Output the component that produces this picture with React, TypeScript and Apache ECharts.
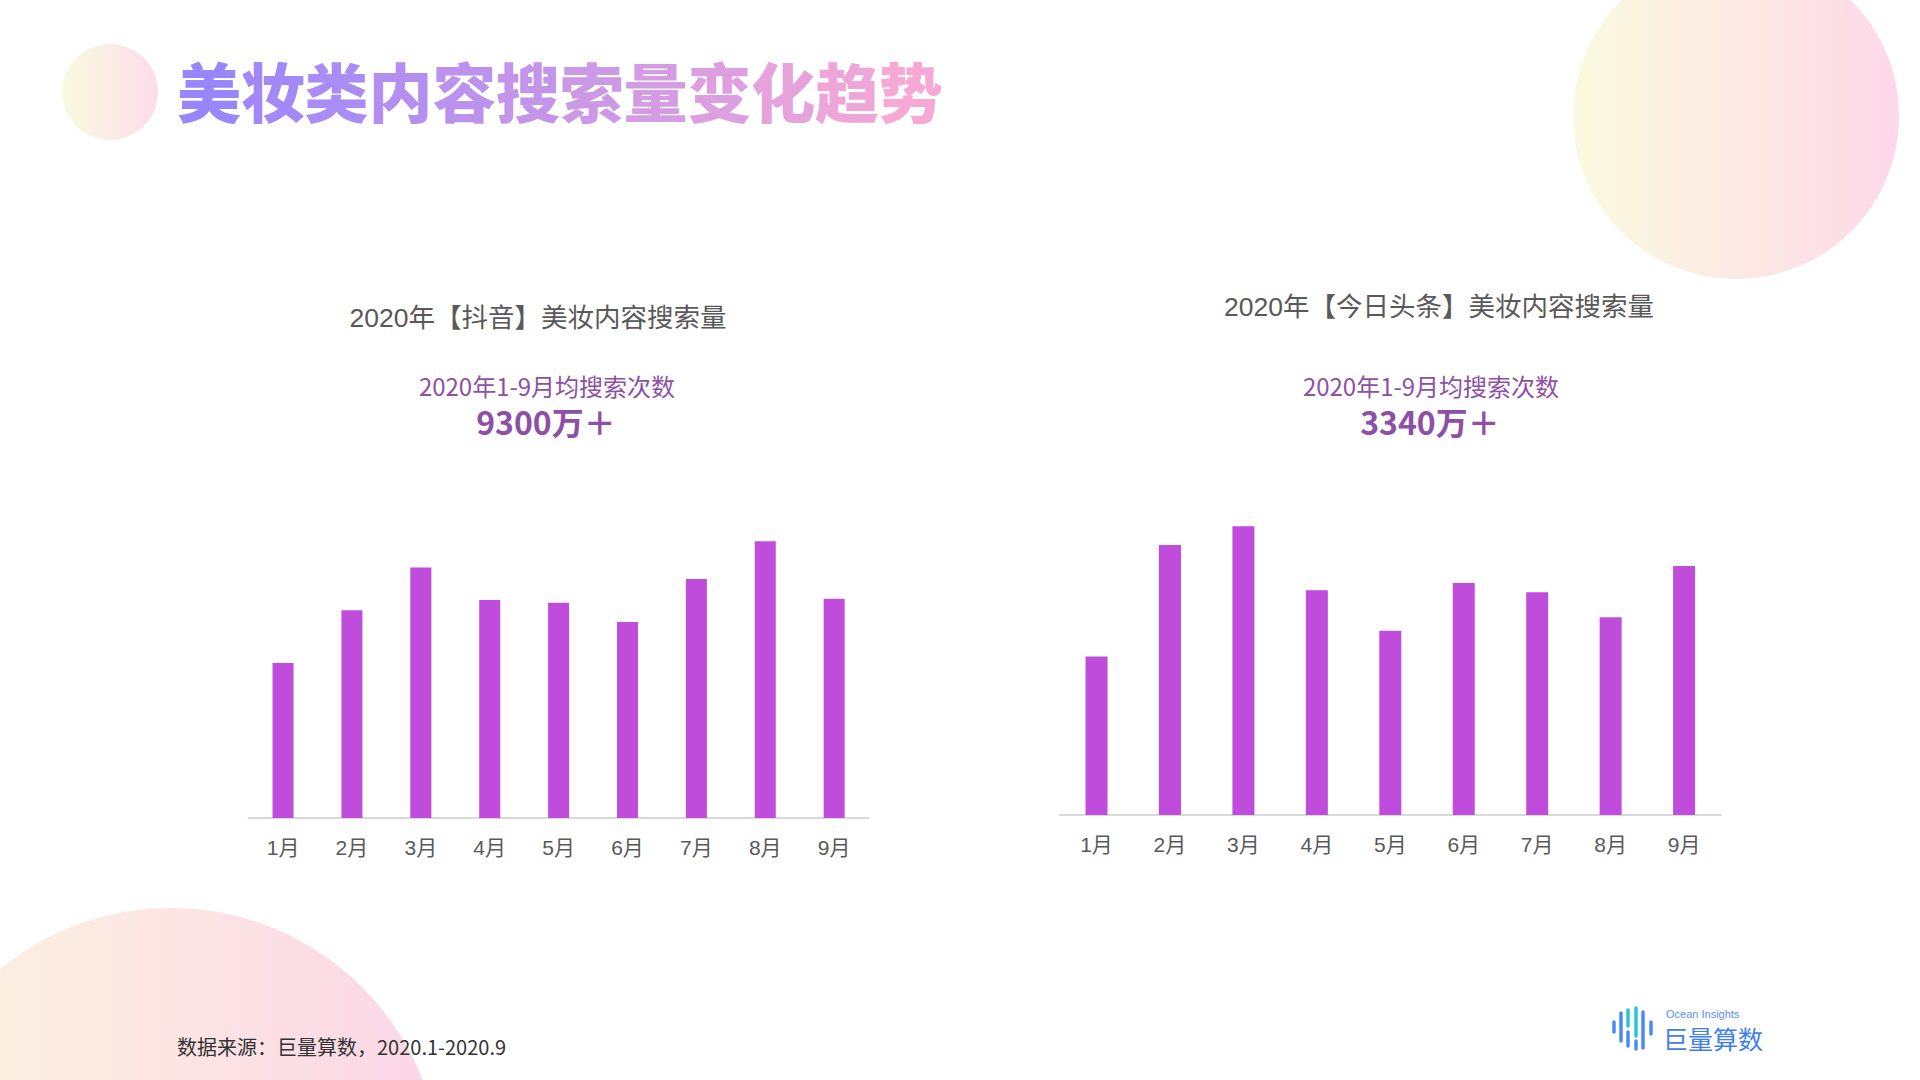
import React, { useEffect, useRef } from "react";
import * as echarts from "echarts";

const months = ["1月", "2月", "3月", "4月", "5月", "6月", "7月", "8月", "9月"];
// estimated monthly search counts (万)
const douyinValues = [6570, 8810, 10620, 9240, 9130, 8310, 10130, 11730, 9300];
const toutiaoValues = [2350, 4000, 4280, 3330, 2730, 3440, 3300, 2930, 3690];
const douyinMax = 12720;
const toutiaoMax = 4446;

const mainTitle = "美妆类内容搜索量变化趋势";
const leftTitle = "2020年【抖音】美妆内容搜索量";
const rightTitle = "2020年【今日头条】美妆内容搜索量";
const avgLabel = "2020年1-9月均搜索次数";
const leftAvg = "9300万＋";
const rightAvg = "3340万＋";
const footer = "数据来源：巨量算数，2020.1-2020.9";

const BAR = "#BF4CDB";
const PURPLE = "#8E4FA6";
const GREY = "#595959";
const CJK = '"Noto Sans CJK SC", "Liberation Sans", sans-serif';
const LAT = '"Liberation Sans", "Noto Sans CJK SC", sans-serif';

function grad(c1: string, c2: string) {
  return new echarts.graphic.LinearGradient(0, 0, 1, 0, [
    { offset: 0, color: c1 },
    { offset: 1, color: c2 },
  ]);
}

function mix(a: number[], b: number[], t: number) {
  const c = a.map((v, i) => Math.round(v + (b[i] - v) * t));
  return `rgb(${c[0]},${c[1]},${c[2]})`;
}

export default function App() {
  const ref = useRef<HTMLDivElement>(null);
  useEffect(() => {
    if (!ref.current) return;
    const chart = echarts.init(ref.current, undefined, { renderer: "svg" });
    const logoBars = [
      { x: 1614, y1: 1022, y2: 1032, c: "#4A8BF5" },
      { x: 1621, y1: 1013, y2: 1041, c: "#4A8BF5" },
      { x: 1628, y1: 1010, y2: 1026, c: "#2BC4D4" },
      { x: 1628, y1: 1032, y2: 1046, c: "#4A8BF5" },
      { x: 1636, y1: 1008, y2: 1036, c: "#2BC4D4" },
      { x: 1636, y1: 1041, y2: 1049, c: "#4A8BF5" },
      { x: 1643, y1: 1012, y2: 1048, c: "#4A8BF5" },
      { x: 1651, y1: 1022, y2: 1034, c: "#4A8BF5" },
    ];
    const titleChars = Array.from(mainTitle);
    const cStart = [152, 134, 252];
    const cEnd = [247, 168, 212];
    const option: any = {
      animation: false,
      backgroundColor: "#ffffff",
      grid: [
        { left: 248.6, width: 620, top: 518, height: 300 },
        { left: 1059.8, width: 661, top: 515, height: 300 },
      ],
      xAxis: [0, 1].map((i) => ({
        type: "category",
        gridIndex: i,
        data: months,
        axisLine: { lineStyle: { color: "#D9D9D9", width: 2 } },
        axisTick: { show: false },
        axisLabel: { color: GREY, fontSize: 21, margin: 19, fontFamily: LAT },
      })),
      yAxis: [
        { type: "value", gridIndex: 0, min: 0, max: douyinMax, show: false, splitLine: { show: false } },
        { type: "value", gridIndex: 1, min: 0, max: toutiaoMax, show: false, splitLine: { show: false } },
      ],
      series: [
        { type: "bar", xAxisIndex: 0, yAxisIndex: 0, data: douyinValues, barWidth: 21, itemStyle: { color: BAR } },
        { type: "bar", xAxisIndex: 1, yAxisIndex: 1, data: toutiaoValues, barWidth: 22, itemStyle: { color: BAR } },
      ],
      graphic: [
        { type: "circle", z: -10, shape: { cx: 110, cy: 92, r: 48 }, style: { fill: grad("#F9FBE0", "#FDDCEA") } },
        { type: "circle", z: -10, shape: { cx: 1736, cy: 116, r: 163 }, style: { fill: grad("#FAFBE0", "#FDD8E8") } },
        { type: "circle", z: -10, shape: { cx: 171, cy: 1178, r: 270 }, style: { fill: grad("#FBF4DF", "#FCD6E7") } },
        ...titleChars.map((ch, i) => ({
          type: "text",
          x: 177 + i * 63.8,
          y: 89,
          style: {
            text: ch,
            fontSize: 64,
            fontWeight: 900,
            fontFamily: CJK,
            fill: mix(cStart, cEnd, i / (titleChars.length - 1)),
            textVerticalAlign: "middle",
          },
        })),
        { type: "text", x: 538, y: 318, style: { text: leftTitle, fontSize: 26.5, fontFamily: LAT, fill: GREY, textAlign: "center", textVerticalAlign: "middle" } },
        { type: "text", x: 1439, y: 307, style: { text: rightTitle, fontSize: 26.5, fontFamily: LAT, fill: GREY, textAlign: "center", textVerticalAlign: "middle" } },
        { type: "text", x: 547, y: 385, style: { text: avgLabel, fontSize: 24, fontFamily: CJK, fill: PURPLE, textAlign: "center", textVerticalAlign: "middle" } },
        { type: "text", x: 1431, y: 385, style: { text: avgLabel, fontSize: 24, fontFamily: CJK, fill: PURPLE, textAlign: "center", textVerticalAlign: "middle" } },
        { type: "text", x: 546, y: 421, style: { text: leftAvg, fontSize: 32, fontWeight: "bold", fontFamily: CJK, fill: PURPLE, textAlign: "center", textVerticalAlign: "middle" } },
        { type: "text", x: 1430, y: 421, style: { text: rightAvg, fontSize: 32, fontWeight: "bold", fontFamily: CJK, fill: PURPLE, textAlign: "center", textVerticalAlign: "middle" } },
        { type: "text", x: 177, y: 1046, style: { text: footer, fontSize: 20, fontFamily: CJK, fill: "#333333", textVerticalAlign: "middle" } },
        ...logoBars.map((b) => ({
          type: "line",
          shape: { x1: b.x, y1: b.y1, x2: b.x, y2: b.y2 },
          style: { stroke: b.c, lineWidth: 3.5, lineCap: "round" },
        })),
        { type: "text", x: 1666, y: 1014, style: { text: "Ocean Insights", fontSize: 11, fontFamily: LAT, fill: "#5B8FF0", textVerticalAlign: "middle" } },
        { type: "text", x: 1663, y: 1038, style: { text: "巨量算数", fontSize: 25, fontFamily: CJK, fill: "#3E7EF2", textVerticalAlign: "middle" } },
      ],
    };
    chart.setOption(option);
    return () => chart.dispose();
  }, []);
  return (
    <div
      ref={ref}
      style={{ position: "fixed", left: 0, top: 0, width: 1920, height: 1080, background: "#fff" }}
    />
  );
}
